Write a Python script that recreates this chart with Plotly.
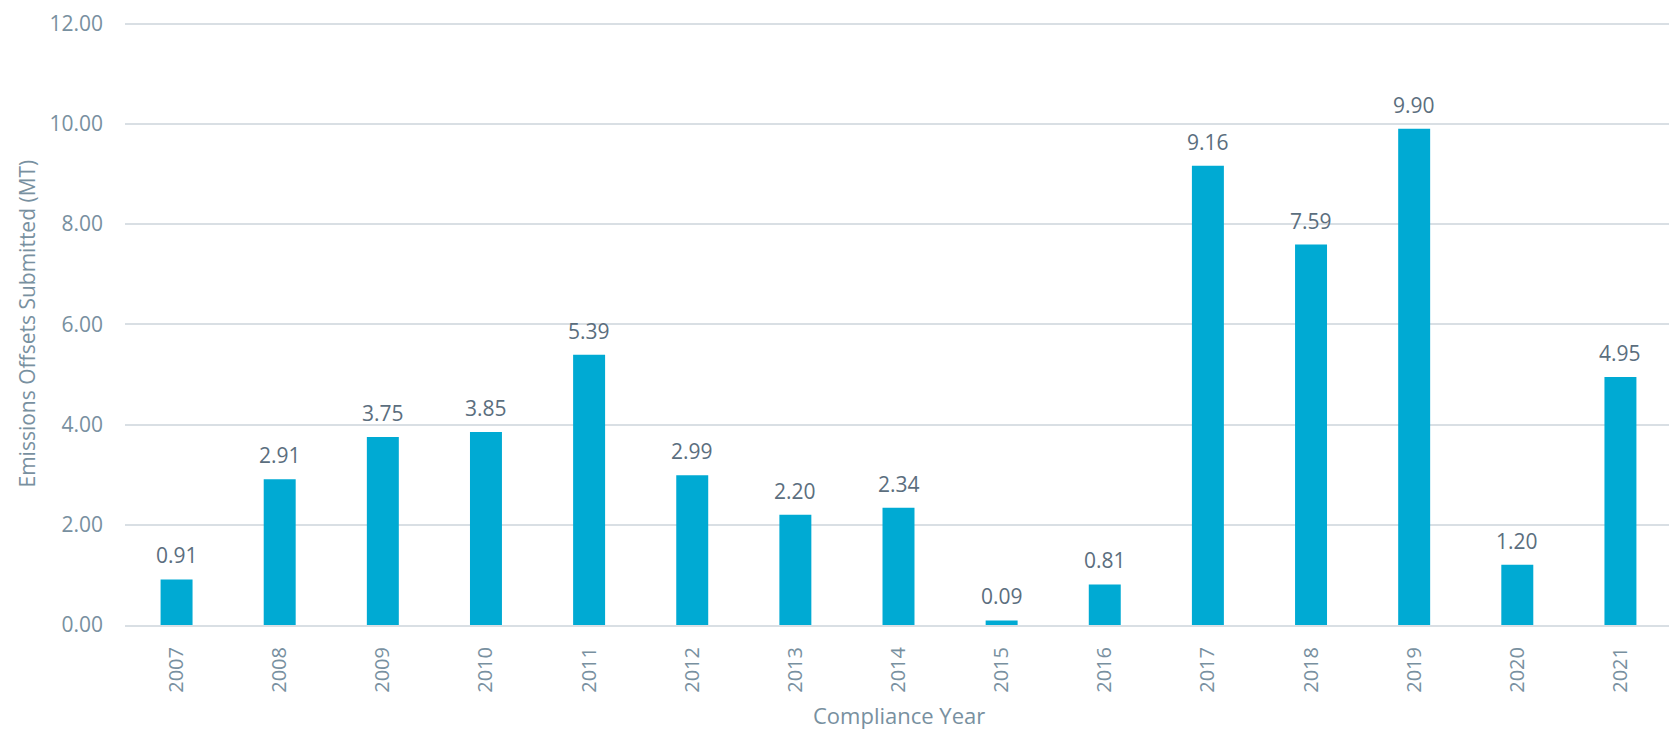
import plotly.graph_objects as go

years = ["2007", "2008", "2009", "2010", "2011", "2012", "2013", "2014",
         "2015", "2016", "2017", "2018", "2019", "2020", "2021"]
offsets = [0.91, 2.91, 3.75, 3.85, 5.39, 2.99, 2.20, 2.34,
           0.09, 0.81, 9.16, 7.59, 9.90, 1.20, 4.95]
y_ticks = [0, 2, 4, 6, 8, 10, 12]

BAR = "#00AAD3"
TICK = "#7890A0"
LABEL = "#5B6E7E"
GRID = "#D9DFE4"
FONT = "Open Sans"

fig = go.Figure()
fig.add_trace(go.Bar(x=years, y=offsets, marker_color=BAR, width=0.31,
                     marker_line_width=0, hoverinfo="x+y"))

for i, v in enumerate(offsets):
    fig.add_annotation(x=i, y=v, xref="x", yref="y", text=f"{v:.2f}",
                       showarrow=False, yanchor="bottom", yshift=8,
                       font=dict(family=FONT, size=21, color=LABEL))

# axis titles
fig.add_annotation(x=0, y=0.5, xref="paper", yref="paper", xanchor="center",
                   yanchor="middle", xshift=-99, textangle=-90, showarrow=False,
                   text="Emissions Offsets Submitted (MT)",
                   font=dict(family=FONT, size=21, color=TICK))
fig.add_annotation(x=0.5, y=0, xref="paper", yref="paper", xanchor="center",
                   yanchor="middle", yshift=-90, showarrow=False,
                   text="Compliance Year",
                   font=dict(family=FONT, size=22, color=TICK))

fig.update_layout(
    width=1677, height=730,
    margin=dict(l=117, r=13, t=14, b=113),
    plot_bgcolor="white", paper_bgcolor="white",
    showlegend=False,
    font=dict(family=FONT, color=TICK),
    xaxis=dict(
        type="category", tickangle=-90, showgrid=False, automargin=False,
        showline=True, linecolor=GRID, linewidth=2,
        ticks="", ticklabelstandoff=12, tickfont=dict(size=20, color=TICK),
    ),
    yaxis=dict(
        range=[0, 12.03], tickvals=y_ticks, automargin=False,
        ticktext=[f"{t:.2f}" for t in y_ticks], ticklabeloverflow="allow",
        showgrid=True, gridcolor=GRID, gridwidth=1.5,
        zeroline=False, ticks="", ticklabelstandoff=21,
        tickfont=dict(size=21, color=TICK),
    ),
)

fig.write_html("out.html")
